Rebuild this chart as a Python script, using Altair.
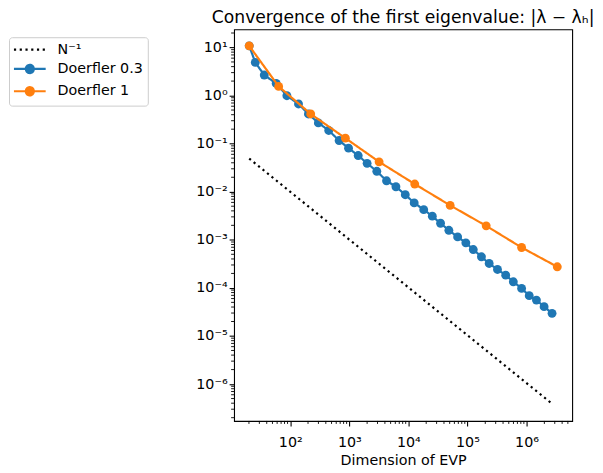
import altair as alt
import pandas as pd

# ---------------- data ----------------
SERIES = ["N⁻¹", "Doerfler 0.3", "Doerfler 1"]
COLORS = ["#000000", "#1f77b4", "#ff7f0e"]
DASHES = [[2.2, 3.6], [1, 0], [1, 0]]

ref_N = [20.2, 2.7e6]
ref_err = [0.049, 3.9e-7]

d03_N = [20.2, 25.6, 36.3, 57.8, 87.7, 138, 203, 299, 448, 672, 970, 1413, 2000,
         2920, 4265, 6150, 8850, 12530, 18160, 25400, 35000, 48400, 68100, 93800,
         125300, 172200, 232800, 322000, 443600, 597000, 824000, 1109000, 1469000,
         1980000, 2700000]
d03_err = [10.8, 4.89, 2.67, 1.79, 0.993, 0.668, 0.414, 0.270, 0.188, 0.116, 0.0805,
           0.0566, 0.039, 0.0266, 0.0169, 0.0127, 0.00867, 0.00586, 0.00424, 0.0031,
           0.00221, 0.00158, 0.00115, 0.000865, 0.000628, 0.000444, 0.000322,
           0.000242, 0.000184, 0.000134, 0.0000977, 0.0000689, 0.0000558,
           0.0000407, 0.0000296]

d1_N = [20.2, 63.6, 222, 858, 3190, 12800, 50900, 207400, 824000, 3310000]
d1_err = [10.8, 1.55, 0.414, 0.130, 0.0419, 0.01445, 0.0052, 0.00195, 0.000692, 0.000275]

x_major = [1e2, 1e3, 1e4, 1e5, 1e6]
y_major = [1e-6, 1e-5, 1e-4, 1e-3, 1e-2, 1e-1, 1e0, 1e1]
minor_mult = [2, 3, 4, 5, 6, 7, 8, 9]
x_domain = [11.2, 5.92e6]
y_domain = [1.71e-7, 23.9]
x_minor = [m * 10.0 ** e for e in range(1, 7) for m in minor_mult
           if x_domain[0] <= m * 10.0 ** e <= x_domain[1]]
y_minor = [m * 10.0 ** e for e in range(-7, 2) for m in minor_mult
           if y_domain[0] <= m * 10.0 ** e <= y_domain[1]]

df = pd.concat([
    pd.DataFrame({"N": ref_N, "err": ref_err, "series": SERIES[0]}),
    pd.DataFrame({"N": d03_N, "err": d03_err, "series": SERIES[1]}),
    pd.DataFrame({"N": d1_N, "err": d1_err, "series": SERIES[2]}),
], ignore_index=True)

# ---------------- styling ----------------
W, H = 341, 395
FONT = "DejaVu Sans"
FS = 14.4

sup = ("(round(log(datum.value)/LN10) < 0 ? '⁻' : '') + "
       "['⁰','¹','²','³','⁴','⁵','⁶','⁷','⁸','⁹'][abs(round(log(datum.value)/LN10))]")
label_expr = "'10' + " + sup

xs = alt.Scale(type="log", domain=x_domain, nice=False)
ys = alt.Scale(type="log", domain=y_domain, nice=False)

x_axis = alt.Axis(values=x_major, labelExpr=label_expr, tickSize=5, tickWidth=1.1,
                  tickColor="black", domain=False, grid=False, labelFont=FONT,
                  labelFontSize=FS, labelColor="black", labelPadding=10,
                  labelOverlap=False, labelFlush=False, title="Dimension of EVP",
                  titleFont=FONT, titleFontSize=FS, titleFontWeight="normal",
                  titleColor="black", titlePadding=5)
y_axis = alt.Axis(values=y_major, labelExpr=label_expr, tickSize=5, tickWidth=1.1,
                  tickColor="black", domain=False, grid=False, labelFont=FONT,
                  labelFontSize=FS, labelColor="black", labelPadding=2,
                  labelOverlap=False, labelFlush=False, title=None)

stroke_scale = alt.Scale(domain=SERIES, range=COLORS)
fill_scale = alt.Scale(domain=SERIES, range=COLORS)
dash_scale = alt.Scale(domain=SERIES, range=DASHES)
# legend glyphs (unit = 6px with symbolSize 144): line from -7.5px to +24.5px, marker at +8.5px
P_LINE = "M-1.25,0L4.083,0"
P_MARK = ("M-1.25,0L4.083,0M2.083,0A0.667,0.667,0,1,1,0.75,0"
          "A0.667,0.667,0,1,1,2.083,0")
shape_scale = alt.Scale(domain=SERIES, range=[P_LINE, P_MARK, P_MARK])

X = alt.X("N:Q", scale=xs, axis=x_axis)
Y = alt.Y("err:Q", scale=ys, axis=y_axis)

base = alt.Chart(df)


def line_layer(name):
    return base.transform_filter(alt.datum.series == name).mark_line(
        strokeWidth=2.2, strokeCap="butt").encode(
        x=X, y=Y,
        stroke=alt.Stroke("series:N", scale=stroke_scale, legend=None),
        strokeDash=alt.StrokeDash("series:N", scale=dash_scale, legend=None),
        order=alt.Order("N:Q"))


def point_layer(name):
    return base.transform_filter(alt.datum.series == name).mark_point(
        filled=True, size=80, opacity=1, strokeWidth=0).encode(
        x=X, y=Y,
        fill=alt.Fill("series:N", scale=fill_scale, legend=None))


legend = alt.Legend(title=None, orient="none", legendX=-227, legendY=8,
                    symbolSize=144, symbolStrokeWidth=2.2, labelFont=FONT,
                    labelFontSize=FS, labelColor="black", fillColor="white",
                    strokeColor="#cccccc", cornerRadius=3, padding=5,
                    rowPadding=3.5, labelOffset=29)

legend_layer = base.transform_filter("false").mark_point(
    filled=False, strokeWidth=2.2, opacity=1).encode(
    fill=alt.Fill("series:N", scale=fill_scale, legend=legend),
    stroke=alt.Stroke("series:N", scale=stroke_scale),
    shape=alt.Shape("series:N", scale=shape_scale),
    strokeDash=alt.StrokeDash("series:N", scale=dash_scale))

x_minor_layer = alt.Chart(pd.DataFrame({"N": x_minor})).mark_rule(
    color="black", strokeWidth=0.9).encode(
    x=X, y=alt.value(H), y2=alt.value(H + 3))
y_minor_layer = alt.Chart(pd.DataFrame({"err": y_minor})).mark_rule(
    color="black", strokeWidth=0.9).encode(
    y=Y, x=alt.value(0), x2=alt.value(-3))

chart = alt.layer(
    legend_layer,
    x_minor_layer,
    y_minor_layer,
    line_layer(SERIES[0]),
    line_layer(SERIES[1]),
    point_layer(SERIES[1]),
    line_layer(SERIES[2]),
    point_layer(SERIES[2]),
).properties(
    width=W, height=H,
    padding={"top": -1.5, "left": 0, "right": 0, "bottom": 0},
    title=alt.TitleParams(text="Convergence of the first eigenvalue: |λ − λₕ|",
                          font=FONT, fontSize=17.3, fontWeight="normal",
                          color="black", anchor="middle", frame="group",
                          baseline="bottom", offset=-14.5),
).configure(font=FONT).configure_view(stroke="black", strokeWidth=1.1)

chart.save("out.html", embed_options={"renderer": "svg", "actions": False})
